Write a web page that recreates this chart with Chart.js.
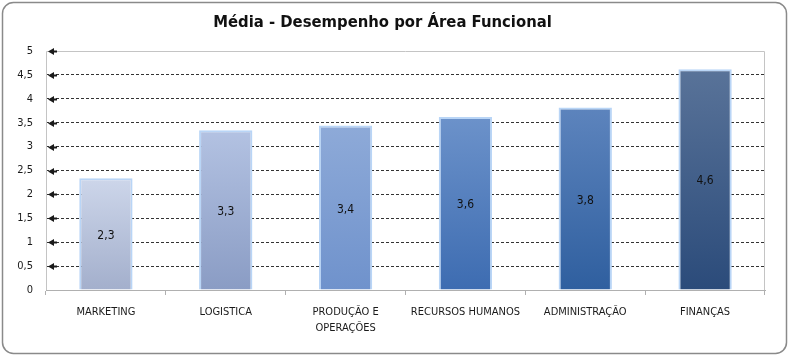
<!DOCTYPE html>
<html>
<head>
<meta charset="utf-8">
<script src="https://cdn.jsdelivr.net/npm/chart.js@4.4.0/dist/chart.umd.min.js"></script>
<style>
html,body{margin:0;padding:0;background:#fff;}
#wrap{position:absolute;left:0;top:0;width:789px;height:357px;}
</style>
</head>
<body>
<div id="wrap"><canvas id="c" width="789" height="357"></canvas></div>
<script>
const categories = ['MARKETING', 'LOGISTICA', ['PRODUÇÃO E', 'OPERAÇÕES'], 'RECURSOS HUMANOS', 'ADMINISTRAÇÃO', 'FINANÇAS'];
const values = [2.34, 3.34, 3.44, 3.62, 3.82, 4.62];
const yTicks = [0, 0.5, 1, 1.5, 2, 2.5, 3, 3.5, 4, 4.5, 5];
const topColors = ['#cdd6ea', '#b3c2e2', '#8eaad8', '#6c92ca', '#5d84bd', '#597399'];
const bottomColors = ['#a3afcc', '#8a9cc4', '#6f92cc', '#3d6cb1', '#2f5f9f', '#2b4b7a'];
const titleText = 'Média - Desempenho por Área Funcional';

const frame = {
  id: 'frame',
  beforeDraw(chart) {
    const ctx = chart.ctx;
    ctx.save();
    ctx.fillStyle = '#fff';
    ctx.fillRect(0, 0, chart.width, chart.height);
    ctx.strokeStyle = '#8a8a8a';
    ctx.lineWidth = 1.5;
    ctx.beginPath();
    ctx.roundRect(2.5, 2.5, chart.width - 5, chart.height - 6, 11);
    ctx.stroke();
    ctx.restore();
  },
  afterDraw(chart) {
    const ctx = chart.ctx;
    const a = chart.chartArea;
    const y = chart.scales.y;
    ctx.save();
    ctx.strokeStyle = '#c4c4c4';
    ctx.lineWidth = 1;
    ctx.beginPath();
    ctx.moveTo(a.left + 0.5, a.bottom);
    ctx.lineTo(a.left + 0.5, a.top + 0.5);
    ctx.lineTo(a.right - 0.5, a.top + 0.5);
    ctx.lineTo(a.right - 0.5, a.bottom);
    ctx.stroke();
    ctx.fillStyle = '#1a1a1a';
    yTicks.forEach(v => {
      if (v === 0) return;
      const py = Math.round(y.getPixelForValue(v)) + 0.5;
      ctx.beginPath();
      ctx.moveTo(a.left + 2, py);
      ctx.lineTo(a.left + 8, py - 3.5);
      ctx.lineTo(a.left + 8, py + 3.5);
      ctx.closePath();
      ctx.fill();
      ctx.fillRect(a.left + 8, py - 1, 3, 2);
    });
    ctx.restore();
  }
};

const barLabels = {
  id: 'barLabels',
  afterDatasetsDraw(chart) {
    const ctx = chart.ctx;
    const meta = chart.getDatasetMeta(0);
    ctx.save();
    ctx.font = '12px "DejaVu Sans Condensed", "Liberation Sans", sans-serif';
    ctx.fillStyle = '#111';
    ctx.textAlign = 'center';
    ctx.textBaseline = 'middle';
    meta.data.forEach((bar, i) => {
      const mid = (bar.y + bar.base) / 2;
      ctx.fillText(values[i].toFixed(1).replace('.', ','), bar.x, mid + 2);
    });
    ctx.restore();
  }
};

new Chart(document.getElementById('c'), {
  type: 'bar',
  data: {
    labels: categories,
    datasets: [{
      data: values,
      backgroundColor(ctx) {
        const chart = ctx.chart;
        const a = chart.chartArea;
        const i = ctx.dataIndex;
        if (!a || i === undefined) return topColors[0];
        const top = chart.scales.y.getPixelForValue(values[i]);
        const g = chart.ctx.createLinearGradient(0, top, 0, a.bottom);
        g.addColorStop(0, topColors[i]);
        g.addColorStop(1, bottomColors[i]);
        return g;
      },
      borderColor: '#b9d5f6',
      borderWidth: 2,
      categoryPercentage: 1,
      barPercentage: 0.445
    }]
  },
  plugins: [frame, barLabels],
  options: {
    responsive: false,
    animation: false,
    layout: { padding: { left: 0, right: 24, top: 0, bottom: 0 } },
    plugins: {
      legend: { display: false },
      tooltip: { enabled: false },
      title: {
        display: true,
        text: titleText,
        color: '#111',
        font: { family: '"DejaVu Sans Condensed", "Liberation Sans", sans-serif', size: 16.5, weight: 'bold', lineHeight: 1.2 },
        padding: { top: 13, bottom: 18.2 }
      }
    },
    scales: {
      x: {
        afterFit(s) { s.height = 67; },
        grid: { display: true, drawOnChartArea: false, offset: true, tickLength: 5, color: '#b0b0b0' },
        border: { display: true, color: '#b0b0b0', width: 1 },
        ticks: {
          color: '#1a1a1a',
          padding: 9,
          maxRotation: 0,
          autoSkip: false,
          font: { family: '"DejaVu Sans Condensed", "Liberation Sans", sans-serif', size: 11, lineHeight: 1.45 }
        }
      },
      y: {
        min: 0, max: 5,
        afterFit(s) { s.width = 46; },
        afterBuildTicks(s) { s.ticks = yTicks.map(v => ({ value: v })); },
        grid: {
          drawTicks: false,
          color(ctx) { const v = ctx.tick && ctx.tick.value; return (v === 0 || v === 5) ? 'rgba(0,0,0,0)' : '#333'; },
          lineWidth: 1
        },
        border: { display: false, dash: [3, 2] },
        ticks: {
          color: '#1a1a1a',
          padding: 13,
          font: { family: '"DejaVu Sans Condensed", "Liberation Sans", sans-serif', size: 11 },
          callback(v) { return String(v).replace('.', ','); }
        }
      }
    }
  }
});
</script>
</body>
</html>
